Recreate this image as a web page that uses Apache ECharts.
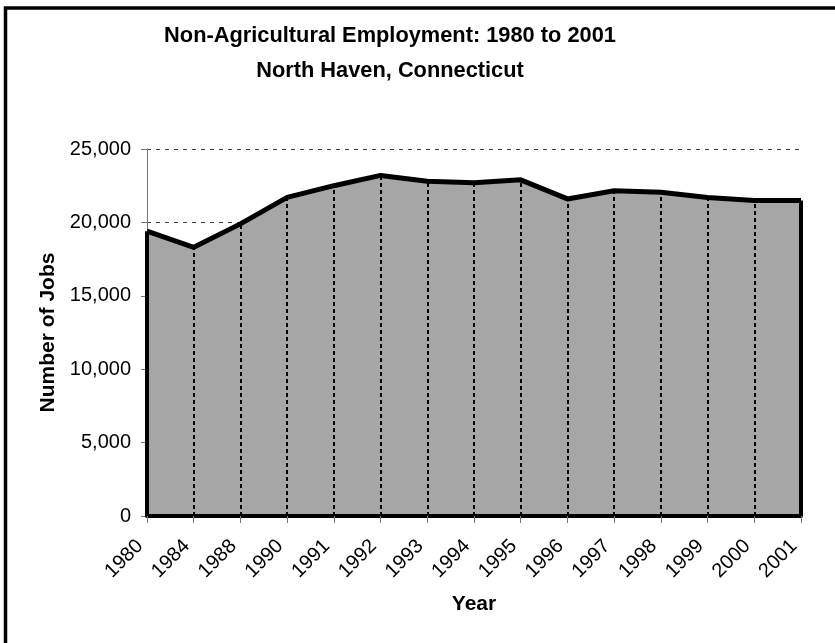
<!DOCTYPE html>
<html>
<head>
<meta charset="utf-8">
<script src="https://cdn.jsdelivr.net/npm/echarts@6/dist/echarts.min.js"></script>
<style>
  html, body { margin: 0; padding: 0; background: #fff; }
  #chart { width: 835px; height: 643px; }
</style>
</head>
<body>
<div id="chart"></div>
<script>
// Non-agricultural jobs in North Haven, CT
const years = ['1980', '1984', '1988', '1990', '1991', '1992', '1993', '1994',
               '1995', '1996', '1997', '1998', '1999', '2000', '2001'];
const jobs = [19400, 18300, 19900, 21700, 22500, 23200, 22800, 22700,
              22900, 21600, 22150, 22050, 21700, 21500, 21500];
const yTicks = [0, 5000, 10000, 15000, 20000, 25000];

const FONT = "'Liberation Sans', Arial, sans-serif";

// Vertical drop lines from the axis up to each value; the two ends are solid edges.
const dropLines = years.map((y, i) => {
  const edge = i === 0 || i === years.length - 1;
  return [
    { coord: [y, 0], lineStyle: edge ? { type: 'solid', width: 4, color: '#000' } : undefined },
    { coord: [y, jobs[i]] }
  ];
});

const chart = echarts.init(document.getElementById('chart'), null, { renderer: 'canvas' });
chart.setOption({
  animation: false,
  backgroundColor: '#fff',
  graphic: [{
    type: 'rect',
    shape: { x: 5.5, y: 8, width: 840, height: 650 },
    style: { fill: 'none', stroke: '#000', lineWidth: 3.5 },
    silent: true
  }],
  title: {
    text: 'Non-Agricultural Employment: 1980 to 2001\nNorth Haven, Connecticut',
    left: 385,
    top: 13,
    textAlign: 'center',
    textStyle: { fontFamily: FONT, fontSize: 21.8, fontWeight: 'bold', color: '#000', lineHeight: 35 }
  },
  grid: { left: 147, right: 34, top: 149, bottom: 127 },
  xAxis: {
    type: 'category',
    data: years,
    boundaryGap: false,
    z: 5,
    name: 'Year',
    nameLocation: 'middle',
    nameGap: 78,
    nameTextStyle: { fontFamily: FONT, fontSize: 21, fontWeight: 'bold', color: '#000' },
    axisLine: { show: true, lineStyle: { color: '#000', width: 4 } },
    axisTick: { show: true, length: 7, lineStyle: { color: '#777', width: 1 } },
    axisLabel: { rotate: 45, margin: 20, padding: [0, 10, 0, 0], fontFamily: FONT, fontSize: 20, color: '#000' },
    splitLine: { show: false }
  },
  yAxis: {
    type: 'value',
    min: yTicks[0],
    max: yTicks[yTicks.length - 1],
    interval: yTicks[1] - yTicks[0],
    name: 'Number of Jobs',
    nameLocation: 'middle',
    nameRotate: 90,
    nameGap: 80,
    nameTextStyle: { fontFamily: FONT, fontSize: 21, fontWeight: 'bold', color: '#000' },
    axisLine: { show: true, lineStyle: { color: '#777', width: 1 } },
    axisTick: { show: true, length: 6, lineStyle: { color: '#777', width: 1 } },
    axisLabel: {
      margin: 16,
      fontFamily: FONT, fontSize: 20, color: '#000',
      formatter: v => v.toLocaleString('en-US')
    },
    splitLine: { show: true, lineStyle: { color: '#444', width: 1, type: [4, 5] } }
  },
  series: [{
    type: 'line',
    data: jobs,
    symbol: 'none',
    lineStyle: { color: '#000', width: 5 },
    areaStyle: { color: '#a6a6a6', opacity: 1 },
    markLine: {
      silent: true,
      symbol: ['none', 'none'],
      label: { show: false },
      lineStyle: { color: '#000', width: 2, type: [4, 3] },
      data: dropLines
    }
  }]
});
</script>
</body>
</html>
